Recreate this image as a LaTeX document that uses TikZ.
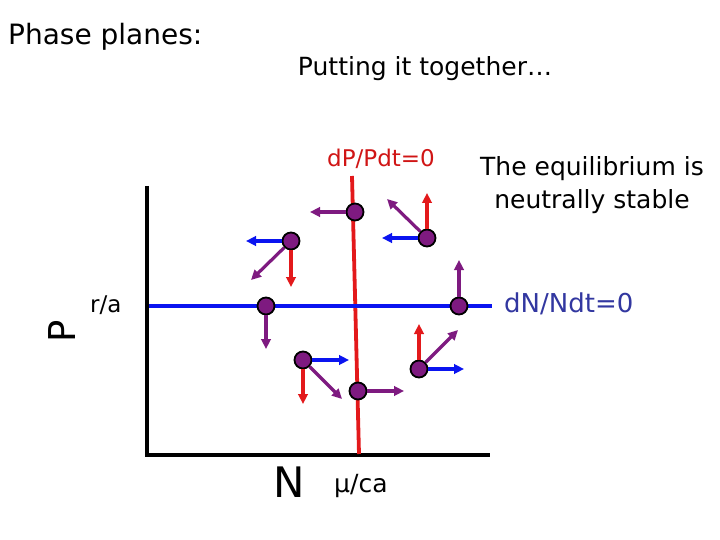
\documentclass[tikz,border=0pt]{standalone}
\usepackage{fontspec}
\setmainfont{DejaVu Sans}
\usetikzlibrary{arrows.meta}
\definecolor{grape}{HTML}{7E1A80}
\definecolor{scarlet}{HTML}{E3191B}
\definecolor{cobalt}{HTML}{0A14F0}
\definecolor{navy}{HTML}{3237A0}
\definecolor{crimson}{HTML}{D01515}

\begin{document}
\begin{tikzpicture}[x=1pt,y=-1pt,
      dot/.style={circle,draw=black,line width=1.8pt,fill=grape,minimum size=17pt,inner sep=0pt},
      vec/.style={-{Triangle[length=10pt,width=9.5pt]},line width=3.2pt},
      axis/.style={line width=4.5pt,draw=black},
      iso/.style={line width=3.8pt},
      label/.style={inner sep=0pt,font=\fontsize{23}{27}\selectfont}]
    \useasboundingbox (0,0) rectangle (720,540);
    \node[label,anchor=base west,font=\fontsize{28}{32}\selectfont] (title) at (8,45) {Phase planes:};
    \node[label,anchor=base,font=\fontsize{25}{28}\selectfont] (sub) at (425,76) {Putting it together…};
    \coordinate (ptop) at (147,186);
    \coordinate (origin) at (147,455);
    \coordinate (nend) at (490,455);
    \draw[axis] (ptop) -- (origin) -- (nend);
    \coordinate (pz1) at (352,176);
    \coordinate (pz2) at (359,454);
    \coordinate (nz1) at (149,306);
    \coordinate (nz2) at (492,306);
    \draw[iso,draw=scarlet] (pz1) -- (pz2);
    \draw[iso,draw=cobalt] (nz1) -- (nz2);
    \node[dot] (d1) at (355,212) {};
    \node[dot] (d2) at (291,241) {};
    \node[dot] (d3) at (427,238) {};
    \node[dot] (d4) at (266,306) {};
    \node[dot] (d5) at (459,306) {};
    \node[dot] (d6) at (303,360) {};
    \node[dot] (d7) at (419,369) {};
    \node[dot] (d8) at (358,391) {};
    \draw[vec,grape] (d1) -- ++(-45,0);
    \draw[vec,cobalt] (d2) -- ++(-45,0);
    \draw[vec,grape] (d2) -- ++(-40,39);
    \draw[vec,scarlet] (d2) -- ++(0,46);
    \draw[vec,scarlet] (d3) -- ++(0,-45);
    \draw[vec,cobalt] (d3) -- ++(-45,0);
    \draw[vec,grape] (d3) -- ++(-40,-39);
    \draw[vec,grape] (d4) -- ++(0,43);
    \draw[vec,grape] (d5) -- ++(0,-46);
    \draw[vec,cobalt] (d6) -- ++(46,0);
    \draw[vec,scarlet] (d6) -- ++(0,44);
    \draw[vec,grape] (d6) -- ++(39,39);
    \draw[vec,scarlet] (d7) -- ++(0,-45);
    \draw[vec,cobalt] (d7) -- ++(45,0);
    \draw[vec,grape] (d7) -- ++(39,-39);
    \draw[vec,grape] (d8) -- ++(46,0);
    \node[label,anchor=base,text=crimson] (plab) at (381,167) {dP/Pdt=0};
    \node[label,anchor=base west,text=navy,font=\fontsize{26}{30}\selectfont] (nlab) at (504,312) {dN/Ndt=0};
    \node[label,anchor=north,align=center,font=\fontsize{25}{33}\selectfont] (note) at (592,156) {The equilibrium is\\neutrally stable};
    \node[label,anchor=base west,font=\fontsize{23}{26}\selectfont] (ra) at (90,312) {r/a};
    \node[label,rotate=90,font=\fontsize{37}{40}\selectfont] (pax) at (62,331) {P};
    \node[label,anchor=base,font=\fontsize{42}{46}\selectfont] (nax) at (289,497) {N};
    \node[label,anchor=base west,font=\fontsize{25}{28}\selectfont] (mu) at (334,492) {μ/ca};
\end{tikzpicture}
\end{document}
